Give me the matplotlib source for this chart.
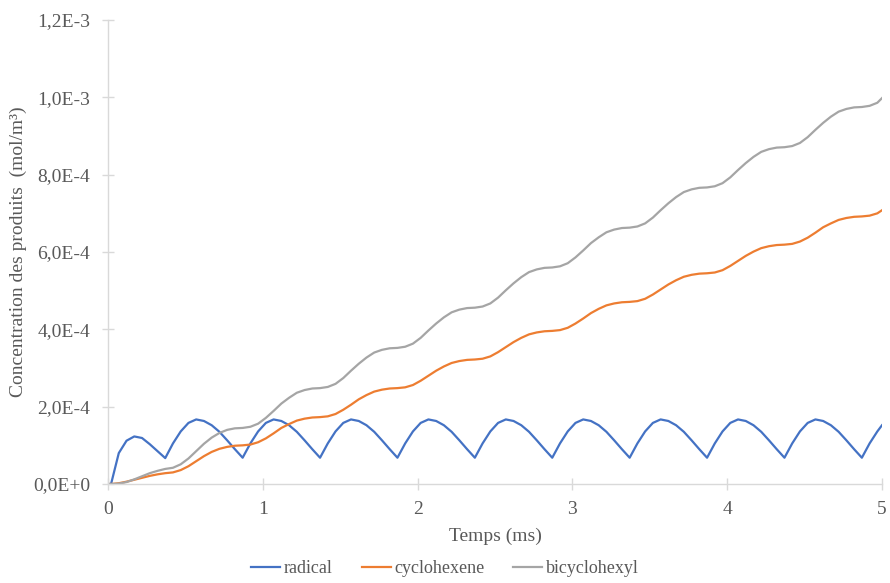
import matplotlib
matplotlib.use("Agg")
import matplotlib.pyplot as plt
from matplotlib.ticker import FuncFormatter

plt.rcParams['font.family'] = ['Liberation Serif', 'DejaVu Serif']

# temps (ms)
temps = [0.00, 0.02, 0.07, 0.12, 0.17, 0.22, 0.27, 0.32,
         0.37, 0.42, 0.47, 0.52, 0.57, 0.62, 0.67, 0.72, 0.77, 0.82,
         0.87, 0.92, 0.97, 1.02, 1.07, 1.12, 1.17, 1.22, 1.27, 1.32,
         1.37, 1.42, 1.47, 1.52, 1.57, 1.62, 1.67, 1.72, 1.77, 1.82,
         1.87, 1.92, 1.97, 2.02, 2.07, 2.12, 2.17, 2.22, 2.27, 2.32,
         2.37, 2.42, 2.47, 2.52, 2.57, 2.62, 2.67, 2.72, 2.77, 2.82,
         2.87, 2.92, 2.97, 3.02, 3.07, 3.12, 3.17, 3.22, 3.27, 3.32,
         3.37, 3.42, 3.47, 3.52, 3.57, 3.62, 3.67, 3.72, 3.77, 3.82,
         3.87, 3.92, 3.97, 4.02, 4.07, 4.12, 4.17, 4.22, 4.27, 4.32,
         4.37, 4.42, 4.47, 4.52, 4.57, 4.62, 4.67, 4.72, 4.77, 4.82,
         4.87, 4.92, 4.97, 5.00]

# concentrations en 1E-4 mol/m3
radical = [0.00, 0.00, 0.80, 1.12, 1.23, 1.19, 1.03, 0.85,
           0.67, 1.05, 1.36, 1.58, 1.67, 1.63, 1.52, 1.35, 1.13, 0.90,
           0.68, 1.05, 1.36, 1.58, 1.67, 1.63, 1.52, 1.35, 1.13, 0.90,
           0.68, 1.05, 1.36, 1.58, 1.67, 1.63, 1.52, 1.35, 1.13, 0.90,
           0.68, 1.05, 1.36, 1.58, 1.67, 1.63, 1.52, 1.35, 1.13, 0.90,
           0.68, 1.05, 1.36, 1.58, 1.67, 1.63, 1.52, 1.35, 1.13, 0.90,
           0.68, 1.05, 1.36, 1.58, 1.67, 1.63, 1.52, 1.35, 1.13, 0.90,
           0.68, 1.05, 1.36, 1.58, 1.67, 1.63, 1.52, 1.35, 1.13, 0.90,
           0.68, 1.05, 1.36, 1.58, 1.67, 1.63, 1.52, 1.35, 1.13, 0.90,
           0.68, 1.05, 1.36, 1.58, 1.67, 1.63, 1.52, 1.35, 1.13, 0.90,
           0.68, 1.05, 1.36, 1.52]

cyclohexene = [0.00, 0.00, 0.02, 0.06, 0.11, 0.16, 0.21, 0.25,
               0.28, 0.30, 0.36, 0.46, 0.59, 0.72, 0.83, 0.91, 0.96, 0.99,
               1.00, 1.02, 1.08, 1.18, 1.31, 1.45, 1.55, 1.64, 1.69, 1.72,
               1.73, 1.75, 1.81, 1.92, 2.05, 2.19, 2.30, 2.39, 2.44, 2.47,
               2.48, 2.50, 2.56, 2.67, 2.80, 2.93, 3.04, 3.13, 3.18, 3.21,
               3.22, 3.24, 3.30, 3.41, 3.54, 3.67, 3.78, 3.87, 3.92, 3.95,
               3.96, 3.98, 4.04, 4.15, 4.28, 4.42, 4.53, 4.62, 4.67, 4.70,
               4.71, 4.73, 4.79, 4.90, 5.03, 5.16, 5.27, 5.36, 5.41, 5.44,
               5.45, 5.47, 5.53, 5.64, 5.77, 5.90, 6.01, 6.10, 6.15, 6.18,
               6.19, 6.21, 6.27, 6.37, 6.50, 6.64, 6.74, 6.83, 6.88, 6.91,
               6.92, 6.94, 7.00, 7.08]

bicyclohexyl = [0.00, 0.00, 0.01, 0.05, 0.12, 0.20, 0.28, 0.34,
                0.39, 0.42, 0.51, 0.66, 0.85, 1.04, 1.20, 1.32, 1.40, 1.44,
                1.45, 1.48, 1.56, 1.71, 1.89, 2.08, 2.23, 2.36, 2.43, 2.47,
                2.48, 2.51, 2.59, 2.74, 2.93, 3.11, 3.27, 3.40, 3.47, 3.51,
                3.52, 3.55, 3.63, 3.78, 3.97, 4.15, 4.31, 4.44, 4.51, 4.55,
                4.56, 4.59, 4.67, 4.82, 5.01, 5.19, 5.35, 5.48, 5.55, 5.59,
                5.60, 5.63, 5.71, 5.86, 6.04, 6.23, 6.38, 6.51, 6.58, 6.62,
                6.63, 6.66, 6.74, 6.89, 7.08, 7.26, 7.42, 7.55, 7.62, 7.66,
                7.67, 7.70, 7.78, 7.93, 8.12, 8.30, 8.46, 8.59, 8.66, 8.70,
                8.71, 8.74, 8.82, 8.97, 9.16, 9.34, 9.50, 9.63, 9.70, 9.74,
                9.75, 9.78, 9.86, 9.98]

noms = ["radical", "cyclohexene", "bicyclohexyl"]
couleurs = ["#4472C4", "#ED7D31", "#A5A5A5"]

fig = plt.figure(figsize=(8.9, 5.83), dpi=100)
ax = fig.add_axes([0.1213, 0.1698, 0.8697, 0.7959])

for serie, nom, c in zip([radical, cyclohexene, bicyclohexyl], noms, couleurs):
    ax.plot(temps, [v * 1e-4 for v in serie], color=c, linewidth=1.6, label=nom)

ax.set_xlim(0, 5)
ax.set_ylim(0, 1.2e-3)
ax.set_xticks([0, 1, 2, 3, 4, 5])
ax.set_yticks([0, 2e-4, 4e-4, 6e-4, 8e-4, 1e-3, 1.2e-3])


def fmt_sci(v, pos):
    if v == 0:
        return "0,0E+0"
    s = "%.1E" % v
    mant, exp = s.split("E")
    return mant.replace(".", ",") + "E" + str(int(exp))


ax.yaxis.set_major_formatter(FuncFormatter(fmt_sci))

for s in ["top", "right"]:
    ax.spines[s].set_visible(False)
for s in ["left", "bottom"]:
    ax.spines[s].set_color("#D9D9D9")
    ax.spines[s].set_linewidth(1.0)
ax.tick_params(direction="inout", length=8, width=1.0, color="#D9D9D9",
               labelcolor="#595959", labelsize=14)
ax.tick_params(axis="x", pad=8)
ax.tick_params(axis="y", pad=9)

ax.set_xlabel("Temps (ms)", color="#595959", fontsize=14, labelpad=7)
ax.set_ylabel("Concentration des produits  (mol/m³)", color="#595959", fontsize=14, labelpad=4)

fig.legend(loc="lower center", bbox_to_anchor=(0.5, -0.018), ncol=3, frameon=False,
           fontsize=13, handlelength=1.6, handletextpad=0.2, columnspacing=1.6,
           labelcolor="#595959")

fig.savefig("out.png", dpi=100)
